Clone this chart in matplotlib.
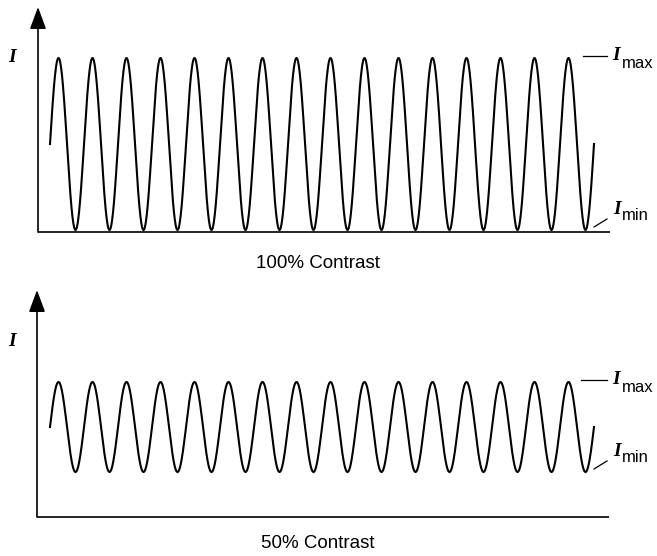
import numpy as np
import matplotlib
matplotlib.use("Agg")
import matplotlib.pyplot as plt

# ---- data ----
captions = ["100% Contrast", "50% Contrast"]
i_max = [1.0, 0.75]
i_min = [0.0, 0.25]
cycles = 16
axis_label = "I"
max_sub = "max"
min_sub = "min"

W, H = 657, 556
fig = plt.figure(figsize=(W / 100, H / 100), dpi=100)

# panel geometry in pixels
panels = [
    dict(left=38, top=7, base=232, right=610, y0=230, sy=172, cap_y=264),
    dict(left=37, top=290, base=517, right=609, y0=517, sy=180, cap_y=543),
]
X0, SX = 50, 34.0  # wave start px, px per cycle

serif = dict(family="Liberation Serif", style="italic", weight="bold", fontsize=14)
sans = dict(family="Liberation Sans", fontsize=12)

for k, p in enumerate(panels):
    xl = ((p["left"] - X0) / SX, (p["right"] - X0) / SX)
    yl = ((p["y0"] - p["base"]) / p["sy"], (p["y0"] - p["top"]) / p["sy"])
    ax = fig.add_axes([p["left"] / W, (H - p["base"]) / H,
                       (p["right"] - p["left"]) / W, (p["base"] - p["top"]) / H])
    ax.set_xlim(*xl)
    ax.set_ylim(*yl)
    ax.axis("off")

    def px(x):
        return (x - X0) / SX

    def py(y, p=p):
        return (p["y0"] - y) / p["sy"]

    # axes lines
    ax.plot([xl[0], xl[1]], [yl[0], yl[0]], color="black", lw=1.2, clip_on=False,
            solid_capstyle="butt")
    ax.annotate("", xy=(xl[0], yl[1]), xytext=(xl[0], yl[0]),
                arrowprops=dict(arrowstyle="-|>,head_length=1.35,head_width=0.5",
                                color="black", lw=1.2, mutation_scale=10,
                                shrinkA=0, shrinkB=0),
                annotation_clip=False)

    # wave
    mean = (i_max[k] + i_min[k]) / 2
    amp = (i_max[k] - i_min[k]) / 2
    x = np.linspace(0, cycles, 4000)
    ax.plot(x, mean + amp * np.sin(2 * np.pi * x), color="black", lw=1.5)

    # I axis label
    ax.text(px(12), py(58 if k == 0 else 341), axis_label, ha="center", va="center",
            clip_on=False, **serif)

    # Imax
    ymax_px = p["y0"] - i_max[k] * p["sy"]
    ax.plot([px(583 if k == 0 else 581), px(607)], [py(ymax_px - 2)] * 2,
            color="black", lw=0.9, clip_on=False)
    ax.text(px(616), py(ymax_px - 2), axis_label, ha="center", va="center",
            clip_on=False, **serif)
    ax.text(px(622), py(ymax_px + 6), max_sub, ha="left", va="center",
            clip_on=False, **sans)

    # Imin
    ymin_px = p["y0"] - i_min[k] * p["sy"]
    ax.plot([px(594), px(607)], [py(ymin_px - 3), py(ymin_px - 11)],
            color="black", lw=0.9, clip_on=False)
    ax.text(px(617), py(ymin_px - 21), axis_label, ha="center", va="center",
            clip_on=False, **serif)
    ax.text(px(622), py(ymin_px - 14), min_sub, ha="left", va="center",
            clip_on=False, **sans)

    # caption
    fig.text(318 / W, 1 - p["cap_y"] / H, captions[k], ha="center", va="center",
             family="Liberation Sans", fontsize=13.5)

fig.savefig("out.png", dpi=100, facecolor="white")
